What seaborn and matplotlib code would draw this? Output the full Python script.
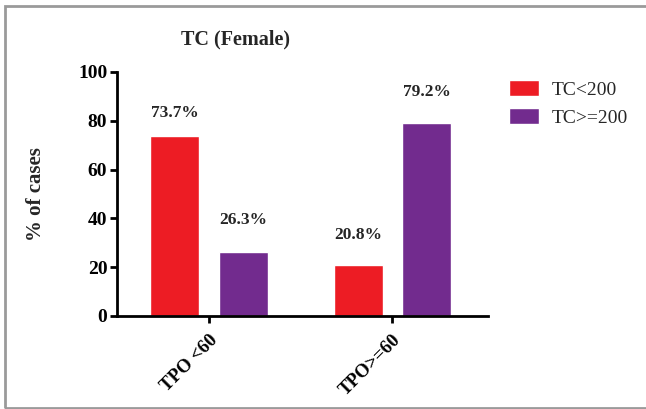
import matplotlib
matplotlib.use("Agg")
import matplotlib.pyplot as plt
import pandas as pd
import seaborn as sns
from matplotlib.patches import Rectangle

# datos
groups = ["TPO <60", "TPO>=60"]
series = ["TC<200", "TC>=200"]
tc_low = [73.7, 20.8]
tc_high = [26.3, 79.2]
colors = ["#ED1C24", "#722B8E"]

df = pd.DataFrame({
    "Group": groups * 2,
    "Series": [series[0]] * 2 + [series[1]] * 2,
    "Value": tc_low + tc_high,
})

sns.set_theme(style="white")
plt.rcParams["font.family"] = ["Liberation Serif", "DejaVu Serif"]

fig = plt.figure(figsize=(6.46, 4.09), dpi=100)
ax = fig.add_axes([117 / 646, 1 - 316 / 409, (488 - 117) / 646, (316 - 72) / 409])

sns.barplot(data=df, x="Group", y="Value", hue="Series", palette=colors,
            width=0.75, gap=0.29, ax=ax, saturation=1)

ax.set_ylim(0, 100)
ax.set_xlim(-0.5, 1.52)
ax.set_yticks([0, 20, 40, 60, 80, 100])
ax.set_ylabel("% of cases", fontsize=15, fontweight="bold", labelpad=23)
ax.set_xlabel("")
ax.set_title("TC (Female)", fontsize=14.5, fontweight="bold", x=0.32, pad=20)

for lbl in ax.get_yticklabels():
    lbl.set_fontweight("bold")
    lbl.set_fontsize(14)
for lbl in ax.get_xticklabels():
    lbl.set_fontweight("bold")
    lbl.set_fontsize(13.5)
    lbl.set_rotation(45)
    lbl.set_ha("right")
    lbl.set_rotation_mode("anchor")

sns.despine(ax=ax)
for sp in ["left", "bottom"]:
    ax.spines[sp].set_linewidth(2)
    ax.spines[sp].set_color("black")
ax.tick_params(axis="both", which="both", direction="out", length=5, width=2,
               colors="black", left=True, bottom=True)
ax.tick_params(axis="y", pad=2)
ax.tick_params(axis="x", pad=6)

# etiquetas de porcentaje (separacion distinta en el original)
pads = [[11, 16], [17, 16.5]]
for cont, pp in zip(ax.containers, pads):
    for bar, v, p in zip(cont, cont.datavalues, pp):
        ax.annotate(f"{v:.1f}%", (bar.get_x() + bar.get_width() / 2, bar.get_height()),
                    xytext=(0, p), textcoords="offset points", ha="center", va="bottom",
                    fontsize=12.5, fontweight="bold")

leg = ax.legend(loc="upper left", bbox_to_anchor=(1.01, 1.04), frameon=False,
                fontsize=14, handlelength=1.55, handleheight=0.9,
                handletextpad=0.65, labelspacing=0.5)

# marco gris de la figura
fig.patches.append(Rectangle((5 / 646, 1 / 409), 1.2, 1 - 7 / 409, transform=fig.transFigure,
                             fill=False, edgecolor="#9a9a9a", linewidth=2))

fig.savefig("out.png", dpi=100)
